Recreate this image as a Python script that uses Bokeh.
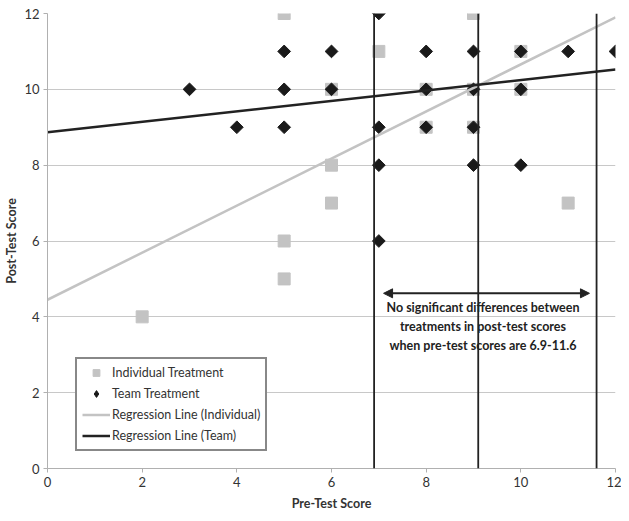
import math
from bokeh.plotting import figure
from bokeh.models import Span, Arrow, NormalHead, Label, Legend, LegendItem, Range1d, FixedTicker
from bokeh.embed import file_html
from bokeh.resources import INLINE

# Data
ind_x = [2, 5, 5, 5, 6, 6, 6, 7, 8, 8, 9, 9, 9, 10, 10, 11]
ind_y = [4, 12, 6, 5, 10, 8, 7, 11, 10, 9, 12, 10, 9, 11, 10, 7]
team_x = [3, 4, 5, 5, 5, 6, 6, 7, 7, 7, 7, 8, 8, 8, 9, 9, 9, 9, 10, 10, 10, 11, 12]
team_y = [10, 9, 11, 10, 9, 11, 10, 12, 9, 8, 6, 11, 10, 9, 11, 10, 9, 8, 11, 10, 8, 11, 11]
reg_x = [0, 12]
reg_ind_y = [4.45, 11.9]
reg_team_y = [8.87, 10.52]
cutoffs = [6.9, 9.1, 11.6]
ticks = [0, 2, 4, 6, 8, 10, 12]
note_lines = ["No significant differences between",
              "treatments in post-test scores",
              "when pre-test scores are 6.9-11.6"]
arrow_x = [7.1, 11.45]
arrow_y = 4.62
note_x = 9.2
note_y = [4.25, 3.75, 3.25]

FONT = "Lato"
TXT = "#333333"

p = figure(width=621, height=513, output_backend="svg", toolbar_location=None,
           x_range=Range1d(0, 12), y_range=Range1d(0, 12),
           min_border_left=47, min_border_right=6, min_border_top=13, min_border_bottom=45)
p.outline_line_color = None
p.background_fill_color = "white"
p.border_fill_color = "white"

for ax in (p.xaxis[0], p.yaxis[0]):
    ax.ticker = FixedTicker(ticks=ticks)
    ax.minor_tick_line_color = None
    ax.major_tick_out = 4
    ax.major_tick_in = 0
    ax.axis_line_color = "#b0b0b0"
    ax.major_tick_line_color = "#b0b0b0"
    ax.major_label_text_font = FONT
    ax.major_label_text_font_size = "13px"
    ax.major_label_text_color = TXT
    ax.axis_label_text_font = FONT
    ax.axis_label_text_font_size = "12.5px"
    ax.axis_label_text_font_style = "bold"
    ax.axis_label_text_color = TXT
p.xaxis.axis_label = "Pre-Test Score"
p.yaxis.axis_label = "Post-Test Score"
p.xaxis.major_label_standoff = 4
p.xaxis.axis_label_standoff = 6
p.yaxis.major_label_standoff = 4
p.yaxis.axis_label_standoff = 2
p.xgrid.grid_line_color = None
p.ygrid.grid_line_color = "#c8c8c8"
p.ygrid.ticker = FixedTicker(ticks=ticks)

r_ind = p.scatter(ind_x, ind_y, marker="square", size=12, fill_color="#c3c3c3", line_color="#c3c3c3")
r_team = p.scatter(team_x, team_y, marker="square", angle=math.pi / 4, size=9,
                   fill_color="#1a1a1a", line_color="#1a1a1a")
r_team_leg = p.scatter(team_x, team_y, marker="diamond", size=11, fill_color="#1a1a1a",
                       line_color="#1a1a1a", visible=False)
r_li = p.line(reg_x, reg_ind_y, line_color="#c3c3c3", line_width=2.5)
r_lt = p.line(reg_x, reg_team_y, line_color="#222222", line_width=2.5)

for c in cutoffs:
    p.add_layout(Span(location=c, dimension="height", line_color="#222222", line_width=1.8))

p.add_layout(Arrow(start=NormalHead(size=9, fill_color="#222222", line_color="#222222"),
                   end=NormalHead(size=9, fill_color="#222222", line_color="#222222"),
                   x_start=arrow_x[0], x_end=arrow_x[1], y_start=arrow_y, y_end=arrow_y,
                   line_color="#222222", line_width=2))
for t, yy in zip(note_lines, note_y):
    p.add_layout(Label(x=note_x, y=yy, text=t, text_align="center", text_baseline="middle",
                       text_font=FONT, text_font_size="12.5px", text_font_style="bold",
                       text_color="#222222"))

legend = Legend(items=[
    LegendItem(label="Individual Treatment", renderers=[r_ind]),
    LegendItem(label="Team Treatment", renderers=[r_team_leg]),
    LegendItem(label="Regression Line (Individual)", renderers=[r_li]),
    LegendItem(label="Regression Line (Team)", renderers=[r_lt]),
], location=(28, 17))
legend.border_line_color = "#111111"
legend.border_line_width = 2
legend.background_fill_color = "white"
legend.background_fill_alpha = 1
legend.label_text_font = FONT
legend.label_text_font_size = "12.5px"
legend.label_text_color = TXT
legend.glyph_width = 28
legend.glyph_height = 17
legend.label_height = 17
legend.spacing = 4
legend.padding = 5
legend.margin = 0
legend.label_standoff = 2
p.add_layout(legend)

open("out.html", "w").write(file_html(p, INLINE))
